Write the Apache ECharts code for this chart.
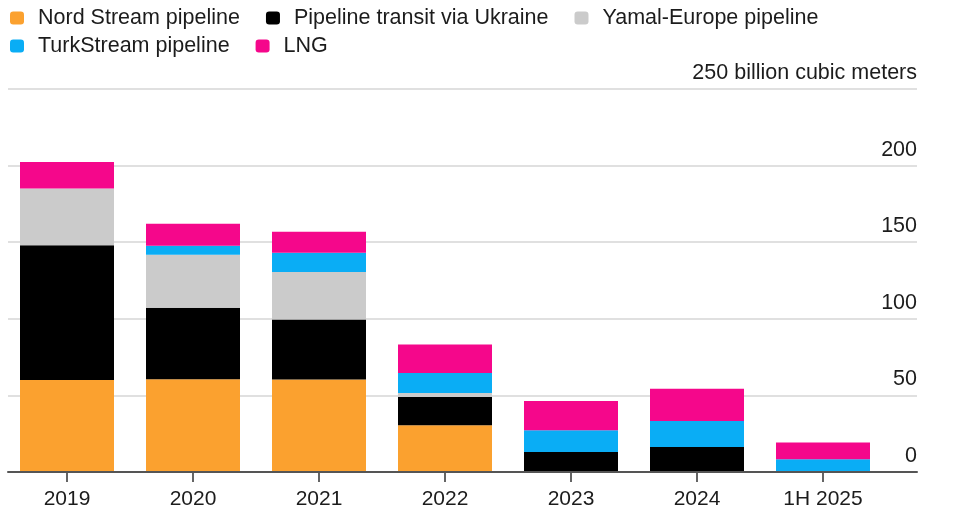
<!DOCTYPE html>
<html>
<head>
<meta charset="utf-8">
<script src="https://cdn.jsdelivr.net/npm/echarts@6/dist/echarts.min.js"></script>
<style>
  html, body { margin: 0; padding: 0; background: #ffffff; }
  #chart { width: 955px; height: 521px; }
</style>
</head>
<body>
<div id="chart"></div>
<script>
// Data (billion cubic meters)
const categories = ['2019', '2020', '2021', '2022', '2023', '2024', '1H 2025'];
const nordStream = [60, 60.5, 60.3, 30.5, 0, 0, 0];
const ukraine    = [88, 46.7, 39.3, 18.4, 13, 16.3, 0];
const yamal      = [37, 34.6, 30.9, 2.6, 0, 0, 0];
const turkStream = [0, 5.9, 12.6, 13.1, 14.2, 17, 8.3];
const lng        = [17.3, 14.3, 13.7, 18.7, 19.1, 21.1, 10.9];
const yTicks = [0, 50, 100, 150, 200, 250];
const unitLabel = 'billion cubic meters';

const seriesNames = ['Nord Stream pipeline', 'Pipeline transit via Ukraine', 'Yamal-Europe pipeline', 'TurkStream pipeline', 'LNG'];
const seriesData = [nordStream, ukraine, yamal, turkStream, lng];
const colors = ['#fba12f', '#000000', '#cbcbcb', '#0aadf5', '#f5078b'];

const FONT = '"Liberation Sans", Arial, Helvetica, sans-serif';
const TXT = '#1c1c1c';

const chart = echarts.init(document.getElementById('chart'), null, { renderer: 'canvas' });

const legendCommon = {
  orient: 'horizontal',
  padding: 0,
  itemWidth: 14,
  itemHeight: 13,
  itemGap: 26,
  icon: 'roundRect',
  selectedMode: false,
  textStyle: { fontFamily: FONT, fontSize: 21.5, color: TXT, lineHeight: 26, padding: [0, 0, 0, 9] }
};

const option = {
  animation: false,
  backgroundColor: '#ffffff',
  color: colors,
  legend: [
    Object.assign({}, legendCommon, { left: 10, top: 5, data: seriesNames.slice(0, 3) }),
    Object.assign({}, legendCommon, { left: 10, top: 33, data: seriesNames.slice(3) })
  ],
  grid: [
    { left: 8, right: 38, top: 89, bottom: 49, containLabel: false },
    { left: 4, right: 69, top: 89, bottom: 49, containLabel: false }
  ],
  xAxis: [
    {
      type: 'category', gridIndex: 0, data: categories, z: 5,
      axisLine: { show: true, lineStyle: { color: '#555555', width: 2 } },
      axisTick: { show: false }, axisLabel: { show: false }, splitLine: { show: false }
    },
    {
      type: 'category', gridIndex: 1, data: categories,
      axisLine: { show: false },
      axisTick: { show: true, alignWithLabel: true, length: 10, lineStyle: { color: '#333333', width: 1.5 } },
      axisLabel: { show: true, margin: 17, fontFamily: FONT, fontSize: 21, color: TXT },
      splitLine: { show: false }
    }
  ],
  yAxis: [
    {
      type: 'value', gridIndex: 0, position: 'right', min: yTicks[0], max: yTicks[yTicks.length - 1], interval: 50,
      axisLine: { show: false }, axisTick: { show: false },
      splitLine: { show: true, lineStyle: { color: '#d6d6d6', width: 1.5 } },
      axisLabel: {
        show: true, inside: true, margin: 0, verticalAlign: 'bottom', padding: [0, 0, 5, 0],
        fontFamily: FONT, fontSize: 21.5, color: TXT,
        formatter: function (v) { return v === yTicks[yTicks.length - 1] ? v + ' ' + unitLabel : String(v); }
      }
    },
    {
      type: 'value', gridIndex: 1, min: yTicks[0], max: yTicks[yTicks.length - 1], interval: 50,
      show: false, splitLine: { show: false }
    }
  ],
  series: seriesNames.map(function (name, i) {
    return {
      name: name, type: 'bar', stack: 'total', xAxisIndex: 1, yAxisIndex: 1,
      barWidth: 94, data: seriesData[i],
      itemStyle: { color: colors[i] },
      emphasis: { disabled: true }
    };
  })
};

chart.setOption(option);
</script>
</body>
</html>
